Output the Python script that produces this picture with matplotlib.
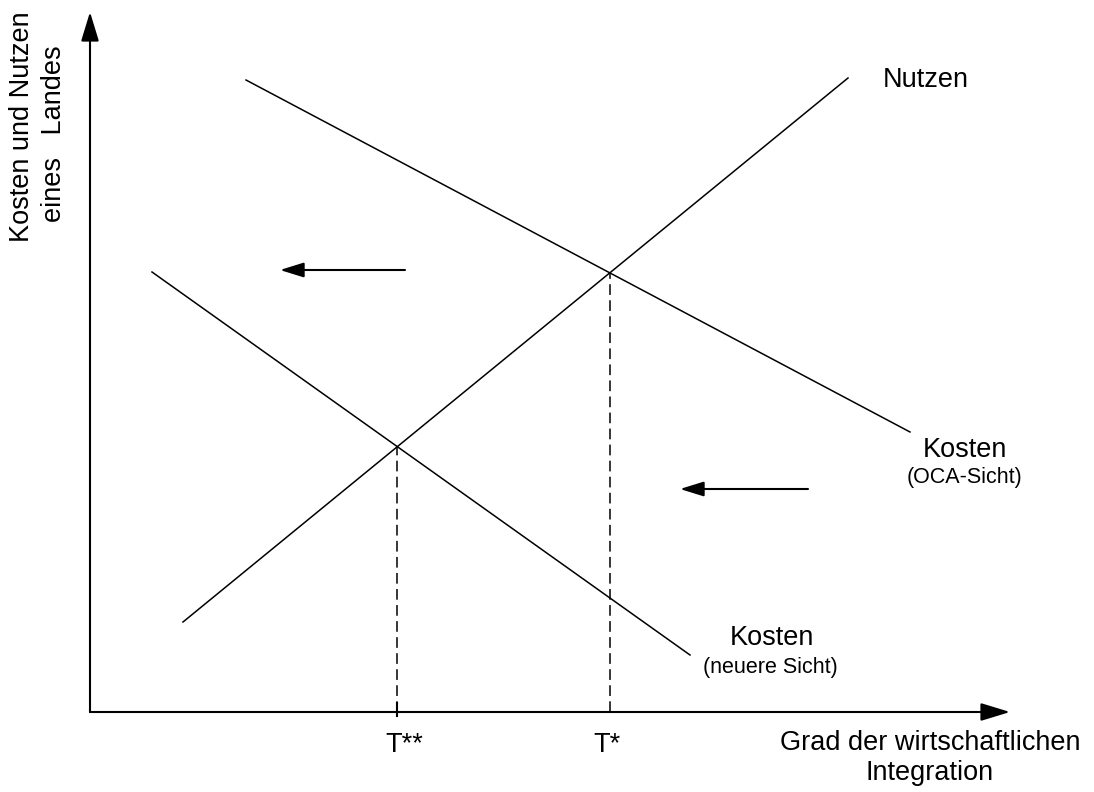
import matplotlib.pyplot as plt
import numpy as np

plt.rcParams['font.family'] = ['Liberation Sans', 'DejaVu Sans']

# Kurven (x = Grad der Integration, y = Kosten/Nutzen), Endpunkte
nutzen_x = [93, 758]
nutzen_y = [90, 634]
kosten_oca_x = [156, 820]
kosten_oca_y = [632, 280]
kosten_neu_x = [62, 600]
kosten_neu_y = [440, 57]

# Verschiebungspfeile (Start, Ende)
pfeil_oben = [(315, 442), (190, 442)]
pfeil_unten = [(718, 223), (590, 223)]

x_max = 920
y_max = 700


def schnitt(ax1, ay1, ax2, ay2):
    # Schnittpunkt zweier Geraden
    m1 = (ay1[1] - ay1[0]) / (ax1[1] - ax1[0])
    m2 = (ay2[1] - ay2[0]) / (ax2[1] - ax2[0])
    b1 = ay1[0] - m1 * ax1[0]
    b2 = ay2[0] - m2 * ax2[0]
    x = (b2 - b1) / (m1 - m2)
    return x, m1 * x + b1


fig = plt.figure(figsize=(10.94, 7.92), dpi=100)
ax = fig.add_axes([0, 0, 1, 1])
ax.set_xlim(-90, 1004)
ax.set_ylim(-80, 712)
ax.axis('off')

lw = 1.1
ax.plot(nutzen_x, nutzen_y, color='black', lw=lw)
ax.plot(kosten_oca_x, kosten_oca_y, color='black', lw=lw)
ax.plot(kosten_neu_x, kosten_neu_y, color='black', lw=lw)

t1x, t1y = schnitt(nutzen_x, nutzen_y, kosten_oca_x, kosten_oca_y)
t2x, t2y = schnitt(nutzen_x, nutzen_y, kosten_neu_x, kosten_neu_y)
ax.plot([t1x, t1x], [0, t1y], color='black', lw=lw, linestyle=(0, (7, 3.5)))
ax.plot([t2x, t2x], [0, t2y], color='black', lw=lw, linestyle=(0, (7, 3.5)))
ax.plot([t2x, t2x], [-4, 9], color='black', lw=1.5)

# Achsen
achse = dict(arrowstyle='-|>,head_length=1.8,head_width=0.55', color='black',
             lw=1.5, shrinkA=0, shrinkB=0, mutation_scale=10)
ax.annotate('', xy=(x_max, 0), xytext=(0, 0), arrowprops=achse)
ax.annotate('', xy=(0, y_max), xytext=(0, 0), arrowprops=achse)

pfeil = dict(arrowstyle='-|>,head_length=1.45,head_width=0.45', color='black',
             lw=1.5, shrinkA=0, shrinkB=0, mutation_scale=10)
ax.annotate('', xy=pfeil_oben[1], xytext=pfeil_oben[0], arrowprops=pfeil)
ax.annotate('', xy=pfeil_unten[1], xytext=pfeil_unten[0], arrowprops=pfeil)

fs = 19.5
fs_klein = 15.5
ax.text(793, 632, 'Nutzen', fontsize=fs, ha='left', va='center')
ax.text(875, 262, 'Kosten', fontsize=fs, ha='center', va='center')
ax.text(875, 234, '(OCA-Sicht)', fontsize=fs_klein, ha='center', va='center')
ax.text(682, 74, 'Kosten', fontsize=fs, ha='center', va='center')
ax.text(680, 44, '(neuere Sicht)', fontsize=fs_klein, ha='center', va='center')

ax.text(t2x + 7, -33, 'T**', fontsize=fs, ha='center', va='center')
ax.text(t1x - 3, -33, 'T*', fontsize=fs, ha='center', va='center')
ax.text(840, -31, 'Grad der wirtschaftlichen', fontsize=fs, ha='center', va='center')
ax.text(840, -61, 'Integration', fontsize=fs, ha='center', va='center')

ax.text(-68, 585, 'Kosten und Nutzen', fontsize=fs, rotation=90, ha='center', va='center')
ax.text(-36, 578, 'eines   Landes', fontsize=fs, rotation=90, ha='center', va='center')

fig.savefig('out.png', dpi=100)
